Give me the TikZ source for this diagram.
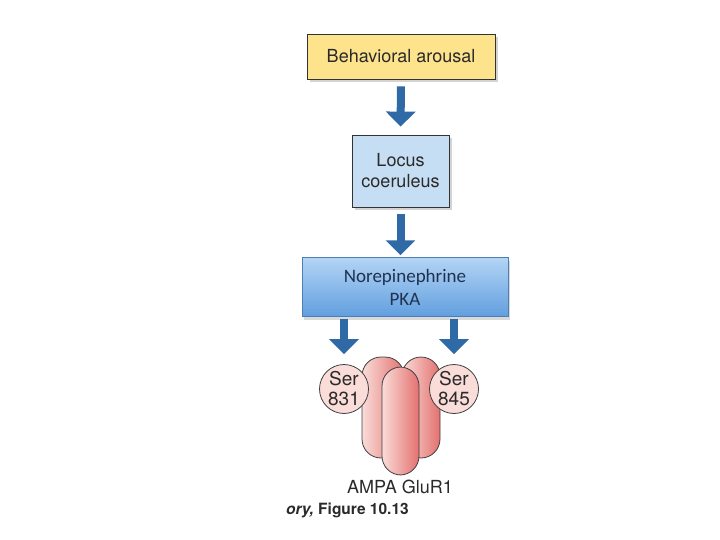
\documentclass[tikz,border=0pt]{standalone}
\usepackage{fontspec}
\setmainfont{TeX Gyre Heros}
\newfontfamily\calibri{Carlito}
\usetikzlibrary{arrows.meta,shadows}
\definecolor{arrowblue}{HTML}{2F69A6}
\definecolor{boxyellow}{HTML}{FCE38C}
\definecolor{boxblue}{HTML}{C6DEF3}
\definecolor{txtgrey}{HTML}{2A2A2A}
\definecolor{nedark}{HTML}{1F3350}
\definecolor{netop}{HTML}{B3D4F5}
\definecolor{nebottom}{HTML}{629FDF}
\definecolor{pinklight}{HTML}{FADCD8}
\definecolor{pinkdark}{HTML}{E3716F}
\tikzset{
  panel/.style={draw=black!80,line width=0.8pt,align=center,text=txtgrey,
    font=\fontsize{18}{21}\selectfont,
    drop shadow={opacity=0.35,shadow xshift=3pt,shadow yshift=-3pt}},
  bigarrow/.style={arrowblue,line width=8pt,-{Triangle[width=29pt,length=15pt]}},
  subunit/.style={draw=black!75,line width=0.8pt,rounded corners=19pt,
    left color=pinklight,right color=pinkdark},
  serine/.style={circle,draw=black!75,line width=0.8pt,fill=pinklight,
    minimum size=49pt,inner sep=0pt,align=center,text=txtgrey,
    font=\fontsize{19}{20}\selectfont}
}
\begin{document}
\begin{tikzpicture}[x=1pt,y=-1pt]
		\useasboundingbox (0,0) rectangle (720,540);
		\node[panel,fill=boxyellow,minimum width=188pt,minimum height=45pt] (arousal) at (401,56.5) {Behavioral arousal};
		\node[panel,fill=boxblue,minimum width=97pt,minimum height=72pt] (locus) at (400.5,171) {Locus\\coeruleus};
		\node[draw=nebottom!80!black,line width=0.5pt,top color=netop,bottom color=nebottom,
			minimum width=206pt,minimum height=59pt,align=center,text=nedark,
			font=\calibri\fontsize{19}{23}\selectfont,
			drop shadow={opacity=0.3,shadow xshift=2pt,shadow yshift=-3pt}] (ne) at (405,287) {Norepinephrine\\PKA};
		% receptor subunits
		\draw[subunit] (362,357) rectangle (404,458);
		\draw[subunit] (402,357) rectangle (440,458);
		\draw[subunit] (382,367) rectangle (419,475);
		\node[serine] (ser831) at (344,389) {Ser\\831};
		\node[serine] (ser845) at (454,389) {Ser\\845};
		\node[text=txtgrey,font=\fontsize{18}{21}\selectfont] (ampa) at (400,487) {AMPA GluR1};
		\node[anchor=west,inner sep=0pt,text=txtgrey,font=\bfseries\fontsize{15.5}{17}\selectfont] (caption) at (286,510) {\textit{ory,} Figure 10.13};
		% arrows
		\draw[bigarrow,shorten <=7pt,shorten >=8pt] (arousal.south) -- (locus.north);
		\draw[bigarrow,shorten <=7pt,shorten >=2pt] (locus.south) -- (locus.south |- ne.north);
		\draw[bigarrow,shorten <=2pt,shorten >=10pt] (ne.south -| ser831.north) -- (ser831.north);
		\draw[bigarrow,shorten <=2pt,shorten >=10pt] (ne.south -| ser845.north) -- (ser845.north);
\end{tikzpicture}
\end{document}
